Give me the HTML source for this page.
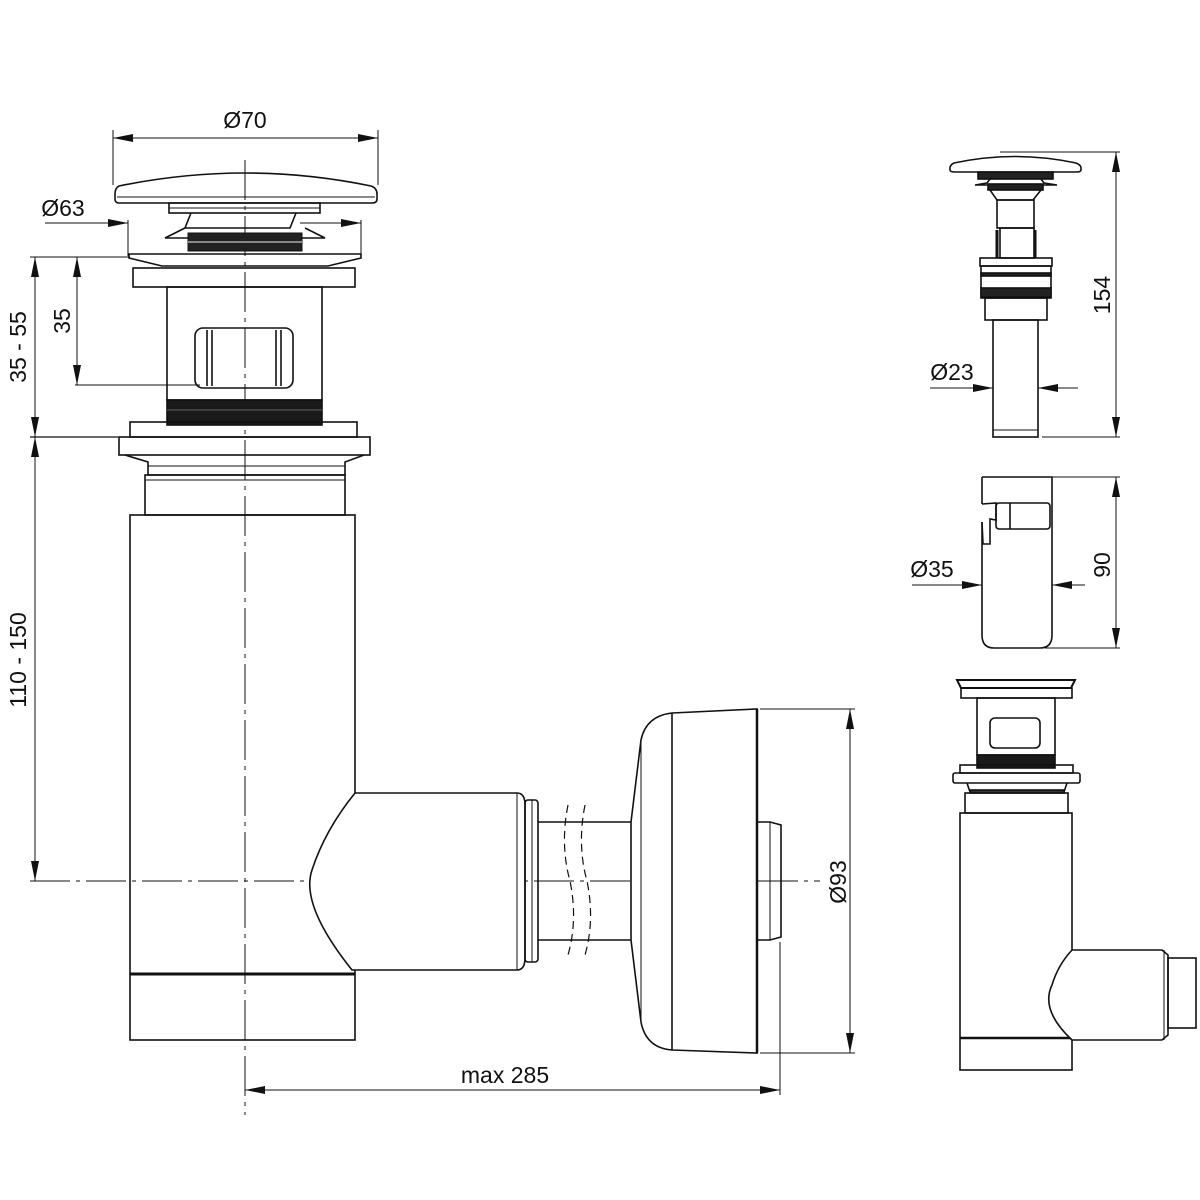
<!DOCTYPE html>
<html><head><meta charset="utf-8"><style>
html,body{margin:0;padding:0;background:#fff}
svg{display:block}
text{font-family:"Liberation Sans Narrow","Liberation Sans",sans-serif;font-size:23px;fill:#111}
</style></head><body>
<svg width="1200" height="1200" viewBox="0 0 1200 1200" xmlns="http://www.w3.org/2000/svg">
<defs>
<marker id="a" viewBox="0 0 20 8" refX="20" refY="4" markerWidth="20" markerHeight="8" markerUnits="userSpaceOnUse" orient="auto-start-reverse"><path d="M0,0L20,4L0,8z" fill="#111"/></marker>
</defs>
<g fill="none" stroke="#111" stroke-width="1.6">
<!-- centre lines -->
<line x1="245" y1="160" x2="245" y2="1115" stroke-width="1" stroke-dasharray="40,6,4,6"/>
<line x1="30" y1="881" x2="820" y2="881" stroke-width="1" stroke-dasharray="40,6,4,6"/>

<!-- Ø70 -->
<line x1="113" y1="130" x2="113" y2="185" stroke-width="1"/>
<line x1="378" y1="130" x2="378" y2="185" stroke-width="1"/>
<line x1="113" y1="138" x2="378" y2="138" stroke-width="1" marker-start="url(#a)" marker-end="url(#a)"/>
<!-- cap -->
<path d="M119,186 Q245,160 371,186 Q377,188 377,194 L377,199 Q377,203 372,203 L119,203 Q115,203 115,199 L115,194 Q115,188 119,186Z"/>
<line x1="117" y1="197" x2="375" y2="197" stroke-width="1"/>
<rect x="169" y="203" width="151" height="10"/>
<line x1="169" y1="208" x2="320" y2="208" stroke-width="1"/>
<!-- Ø63 -->
<line x1="45" y1="223" x2="128" y2="223" stroke-width="1" marker-end="url(#a)"/>
<line x1="361" y1="223" x2="361" y2="222" stroke-width="1"/>
<line x1="300" y1="223" x2="361" y2="223" stroke-width="1" marker-end="url(#a)"/>
<line x1="128" y1="220" x2="128" y2="256" stroke-width="1"/>
<line x1="361" y1="220" x2="361" y2="254" stroke-width="1"/>
<path d="M191,213 L185,228 L290,228 L296,213"/>
<path d="M185,228 L165,238 L325,238 L305,228"/>
<rect x="188" y="233" width="114" height="18" fill="#222" stroke-width="1"/>
<line x1="188" y1="242" x2="302" y2="242" stroke="#aaa" stroke-width="1.5"/>
<path d="M129,254 L361,254 L361,258 L328,266 L162,266 L129,258Z"/>
<rect x="133" y="268" width="222" height="19"/>
<!-- body -->
<rect x="167" y="287" width="155" height="113"/>
<rect x="195" y="328" width="98" height="60" rx="8"/>
<line x1="207" y1="330" x2="207" y2="386"/><line x1="212" y1="330" x2="212" y2="386"/>
<line x1="276" y1="330" x2="276" y2="386"/><line x1="281" y1="330" x2="281" y2="386"/>
<rect x="167" y="400" width="155" height="25" fill="#1a1a1a"/>
<line x1="167" y1="410" x2="322" y2="410" stroke="#666" stroke-width="1"/>
<rect x="130" y="422" width="227" height="15"/>
<rect x="119" y="437" width="251" height="18"/>
<path d="M125,455 L148,462 L148,475 L345,475 L345,462 L364,455"/>
<line x1="148" y1="466" x2="345" y2="466" stroke-width="1"/>
<rect x="145" y="475" width="200" height="40"/>
<line x1="145" y1="480" x2="345" y2="480" stroke-width="1"/>
<!-- main body -->
<rect x="130" y="515" width="225" height="525"/>
<line x1="130" y1="974" x2="355" y2="974" stroke-width="3"/>
<!-- elbow -->
<path d="M355,793 L517,793 Q525,793 525,805 L525,958 Q525,970 517,970 L352,970 Q300,905 312,870 Q325,830 355,793Z" fill="#fff"/>
<line x1="517" y1="793" x2="517" y2="970" stroke-width="1"/>
<rect x="525" y="800" width="13" height="162" rx="3"/>
<line x1="532" y1="800" x2="532" y2="962" stroke-width="1"/>
<line x1="538" y1="822" x2="631" y2="822"/><line x1="538" y1="940" x2="631" y2="940"/>
<path d="M568,805 Q560,845 570,881 Q578,920 568,955" stroke-dasharray="8,5" stroke-width="1.2"/>
<path d="M585,805 Q577,845 587,881 Q595,920 585,955" stroke-dasharray="8,5" stroke-width="1.2"/>
<!-- wall cap -->
<path d="M672,713 L757,709 L757,1053 L672,1050 Q646,1048 641,1022 L631,940 L631,822 L641,740 Q646,716 672,713Z" fill="#fff"/>
<line x1="672" y1="713" x2="672" y2="1050"/>
<line x1="641" y1="740" x2="641" y2="1022" stroke-width="1"/>
<line x1="757" y1="709" x2="757" y2="1053" stroke-width="2.5"/>
<path d="M757,822 L770,822 L781,825 L781,937 L770,940 L757,940"/>
<line x1="770" y1="822" x2="770" y2="940" stroke-width="1"/>
<!-- Ø93 -->
<line x1="760" y1="709" x2="855" y2="709" stroke-width="1"/>
<line x1="760" y1="1053" x2="855" y2="1053" stroke-width="1"/>
<line x1="850" y1="709" x2="850" y2="1053" stroke-width="1" marker-start="url(#a)" marker-end="url(#a)"/>
<!-- max 285 -->
<line x1="780" y1="942" x2="780" y2="1095" stroke-width="1"/>
<line x1="245" y1="1090" x2="780" y2="1090" stroke-width="1" marker-start="url(#a)" marker-end="url(#a)"/>
<!-- left dims -->
<line x1="30" y1="257" x2="130" y2="257" stroke-width="1"/>
<line x1="75" y1="385" x2="200" y2="385" stroke-width="1"/>
<line x1="30" y1="437" x2="118" y2="437" stroke-width="1.3"/>
<line x1="35" y1="257" x2="35" y2="437" stroke-width="1" marker-start="url(#a)" marker-end="url(#a)"/>
<line x1="77" y1="257" x2="77" y2="385" stroke-width="1" marker-start="url(#a)" marker-end="url(#a)"/>
<line x1="35" y1="437" x2="35" y2="881" stroke-width="1" marker-start="url(#a)" marker-end="url(#a)"/>

<!-- right top component -->
<path d="M954,163 Q1015,150 1076,163 Q1081,165 1081,168 L1081,170 Q1081,172 1076,172 L955,172 Q950,172 950,170 L950,168 Q950,165 954,163Z"/>
<rect x="978" y="172" width="75" height="7" fill="#222"/>
<path d="M990,179 L987,183 L975,185 L1057,185 L1044,183 L1041,179"/>
<rect x="988" y="184" width="55" height="6" fill="#222"/>
<path d="M990,190 L997,200 L1033,200 L1041,190"/>
<rect x="997" y="200" width="37" height="28"/>
<rect x="1000" y="228" width="34" height="30"/>
<line x1="997" y1="230" x2="997" y2="258" stroke-width="3"/><line x1="1035" y1="230" x2="1035" y2="258" stroke-width="3"/>
<rect x="980" y="258" width="72" height="8"/>
<rect x="981" y="266" width="70" height="32"/>
<rect x="981" y="273" width="70" height="3" fill="#222"/>
<rect x="981" y="288" width="70" height="9" fill="#222"/>
<rect x="985" y="298" width="62" height="22"/>
<rect x="993" y="320" width="45" height="117"/>
<line x1="993" y1="430" x2="1038" y2="430" stroke-width="1"/>
<line x1="1000" y1="152" x2="1120" y2="152" stroke-width="1"/>
<line x1="1042" y1="437" x2="1120" y2="437" stroke-width="1"/>
<line x1="1116" y1="152" x2="1116" y2="437" stroke-width="1" marker-start="url(#a)" marker-end="url(#a)"/>
<line x1="930" y1="388" x2="993" y2="388" stroke-width="1" marker-end="url(#a)"/>
<line x1="1078" y1="388" x2="1038" y2="388" stroke-width="1" marker-end="url(#a)"/>
<!-- right middle -->
<path d="M982,477 L1052,477 L1052,635 Q1052,648 1040,648 L994,648 Q982,648 982,635 L982,522 M982,477 L982,504"/>
<path d="M982,504 L996,503 L996,520 L990,519 L990,544 L983,544 L982,522"/>
<rect x="996" y="503" width="54" height="26" rx="3"/>
<line x1="1010" y1="503" x2="1010" y2="529"/>
<line x1="1052" y1="477" x2="1120" y2="477" stroke-width="1"/>
<line x1="1045" y1="648" x2="1120" y2="648" stroke-width="1"/>
<line x1="1116" y1="477" x2="1116" y2="648" stroke-width="1" marker-start="url(#a)" marker-end="url(#a)"/>
<line x1="912" y1="585" x2="982" y2="585" stroke-width="1" marker-end="url(#a)"/>
<line x1="1085" y1="585" x2="1052" y2="585" stroke-width="1" marker-end="url(#a)"/>
<!-- right bottom -->
<path d="M957,680 L1075,680 L1071,688 L961,688Z" stroke-width="2"/>
<rect x="961" y="688" width="111" height="10"/>
<rect x="977" y="698" width="78" height="57"/>
<rect x="990" y="718" width="50" height="30" rx="5"/>
<rect x="977" y="755" width="78" height="13" fill="#1a1a1a"/>
<rect x="960" y="765" width="113" height="8"/>
<rect x="953" y="773" width="127" height="10" rx="2"/>
<path d="M967,783 L970,792 L1064,792 L1067,783"/>
<rect x="970" y="790" width="94" height="3" fill="#333"/>
<rect x="965" y="793" width="103" height="20"/>
<rect x="960" y="813" width="112" height="257"/>
<line x1="960" y1="1038" x2="1072" y2="1038" stroke-width="2.5"/>
<path d="M1072,950 L1162,950 L1168,955 L1168,1035 L1162,1040 L1072,1040 Q1040,1010 1052,985 Q1058,965 1072,950Z" fill="#fff"/>
<line x1="1164" y1="950" x2="1164" y2="1040" stroke-width="1"/>
<rect x="1168" y="958" width="28" height="70"/>
</g>
<text x="245" y="128" text-anchor="middle">Ø70</text>
<text x="63" y="216" text-anchor="middle">Ø63</text>
<text transform="translate(26,347) rotate(-90)" text-anchor="middle">35 - 55</text>
<text transform="translate(70,321) rotate(-90)" text-anchor="middle">35</text>
<text transform="translate(26,660) rotate(-90)" text-anchor="middle">110 - 150</text>
<text x="505" y="1083" text-anchor="middle">max 285</text>
<text transform="translate(846,882) rotate(-90)" text-anchor="middle">Ø93</text>
<text transform="translate(1110,295) rotate(-90)" text-anchor="middle">154</text>
<text x="952" y="380" text-anchor="middle">Ø23</text>
<text transform="translate(1110,565) rotate(-90)" text-anchor="middle">90</text>
<text x="932" y="577" text-anchor="middle">Ø35</text>
</svg>
</body></html>
